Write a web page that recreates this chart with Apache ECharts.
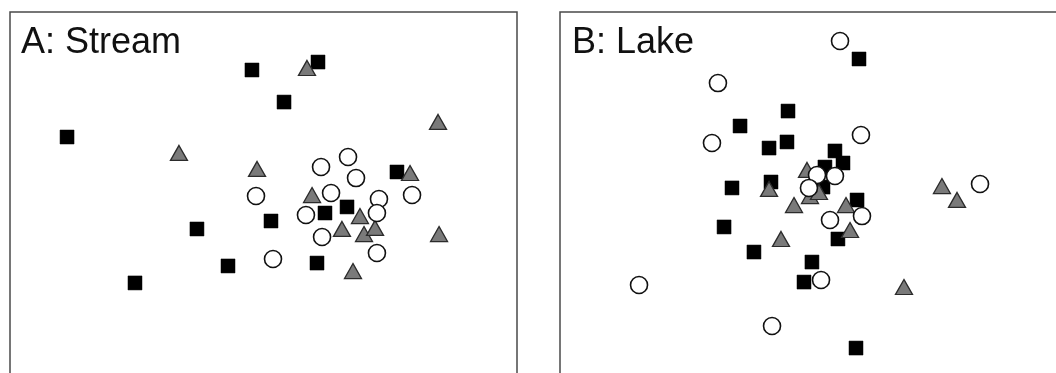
<!DOCTYPE html>
<html>
<head>
<meta charset="utf-8">
<script src="https://cdn.jsdelivr.net/npm/echarts@6/dist/echarts.min.js"></script>
<style>
  html, body { margin: 0; padding: 0; background: #fff; }
  #chart { width: 1056px; height: 373px; }
</style>
</head>
<body>
<div id="chart"></div>
<script>
// NMDS ordination scores, panel A (stream) — [axis1, axis2]
const streamSquares = [
  [-1.550, 0.513], [-0.091, 1.042], [0.430, 1.105], [0.162, 0.789],
  [1.053, 0.237], [0.485, -0.087], [0.659, -0.039], [0.059, -0.150],
  [-0.525, -0.213], [-0.280, -0.505], [0.422, -0.482], [-1.014, -0.639]
];
const streamCircles = [
  [0.454, 0.276], [0.667, 0.355], [0.730, 0.189], [-0.059, 0.047],
  [0.533, 0.071], [0.911, 0.024], [1.172, 0.055], [0.335, -0.103],
  [0.895, -0.087], [0.462, -0.276], [0.895, -0.403], [0.075, -0.450]
];
const streamTriangles = [
  [0.343, 1.058], [1.377, 0.632], [-0.667, 0.387], [-0.051, 0.261],
  [1.156, 0.229], [0.383, 0.055], [0.761, -0.111], [0.619, -0.213],
  [0.793, -0.253], [0.880, -0.205], [1.385, -0.253], [0.706, -0.545]
];

// NMDS ordination scores, panel B (lake)
const lakeSquares = [
  [0.300, 1.129], [-0.246, 0.718], [-0.615, 0.600], [-0.254, 0.474],
  [-0.392, 0.426], [0.115, 0.403], [0.177, 0.308], [0.038, 0.276],
  [-0.377, 0.158], [-0.677, 0.111], [0.023, 0.118], [0.285, 0.016],
  [-0.738, -0.197], [-0.508, -0.395], [0.138, -0.292], [-0.062, -0.474],
  [-0.123, -0.632], [0.277, -1.153]
];
const lakeCircles = [
  [0.154, 1.271], [-0.785, 0.939], [0.315, 0.529], [-0.831, 0.466],
  [1.231, 0.142], [-0.023, 0.213], [0.115, 0.205], [-0.085, 0.111],
  [0.077, -0.142], [0.323, -0.111], [-1.392, -0.655], [-0.369, -0.979],
  [0.008, -0.616]
];
const lakeTriangles = [
  [-0.100, 0.253], [-0.392, 0.103], [-0.077, 0.047], [-0.008, 0.079],
  [-0.200, -0.024], [0.200, -0.024], [0.231, -0.221], [-0.300, -0.292],
  [0.938, 0.126], [1.054, 0.016], [0.646, -0.671]
];

const panelTitles = ['A: Stream', 'B: Lake'];

const chart = echarts.init(document.getElementById('chart'), null, { renderer: 'canvas' });

const hiddenAxis = {
  min: -2, max: 2,
  axisLine: { show: false }, axisTick: { show: false },
  axisLabel: { show: false }, splitLine: { show: false }
};
const hiddenYAxis = Object.assign({}, hiddenAxis, { min: -1.5, max: 1.5 });

function squareSeries(data, idx) {
  return {
    type: 'scatter', xAxisIndex: idx, yAxisIndex: idx, data: data,
    symbol: 'rect', symbolSize: 14, z: 2,
    itemStyle: { color: '#000', borderColor: '#000', borderWidth: 0.5, opacity: 1 }
  };
}
function triangleSeries(data, idx) {
  return {
    type: 'scatter', xAxisIndex: idx, yAxisIndex: idx, data: data,
    symbol: 'triangle', symbolSize: [17, 15], z: 3,
    itemStyle: { color: '#7a7a7a', borderColor: '#2b2b2b', borderWidth: 1.3, opacity: 1 }
  };
}
function circleSeries(data, idx) {
  return {
    type: 'scatter', xAxisIndex: idx, yAxisIndex: idx, data: data,
    symbol: 'circle', symbolSize: 17, z: 4,
    itemStyle: { color: '#fff', borderColor: '#111', borderWidth: 1.6, opacity: 1 }
  };
}

const titleStyle = { fontFamily: 'Liberation Sans, Arial, sans-serif', fontSize: 36, fontWeight: 'normal', color: '#111' };

chart.setOption({
  animation: false,
  backgroundColor: '#fff',
  title: [
    { text: panelTitles[0], left: 21, top: 25, padding: 0, textStyle: titleStyle },
    { text: panelTitles[1], left: 572, top: 25, padding: 0, textStyle: titleStyle }
  ],
  grid: [
    { left: 10, top: 12, width: 507, height: 380, show: true, outerBoundsMode: 'none',
      borderColor: '#4a4a4a', borderWidth: 1.5, backgroundColor: 'transparent' },
    { left: 560, top: 12, width: 520, height: 380, show: true, outerBoundsMode: 'none',
      borderColor: '#4a4a4a', borderWidth: 1.5, backgroundColor: 'transparent' }
  ],
  xAxis: [
    Object.assign({ type: 'value', gridIndex: 0 }, hiddenAxis),
    Object.assign({ type: 'value', gridIndex: 1 }, hiddenAxis)
  ],
  yAxis: [
    Object.assign({ type: 'value', gridIndex: 0 }, hiddenYAxis),
    Object.assign({ type: 'value', gridIndex: 1 }, hiddenYAxis)
  ],
  series: [
    squareSeries(streamSquares, 0),
    triangleSeries(streamTriangles, 0),
    circleSeries(streamCircles, 0),
    squareSeries(lakeSquares, 1),
    triangleSeries(lakeTriangles, 1),
    circleSeries(lakeCircles, 1)
  ]
});
</script>
</body>
</html>
